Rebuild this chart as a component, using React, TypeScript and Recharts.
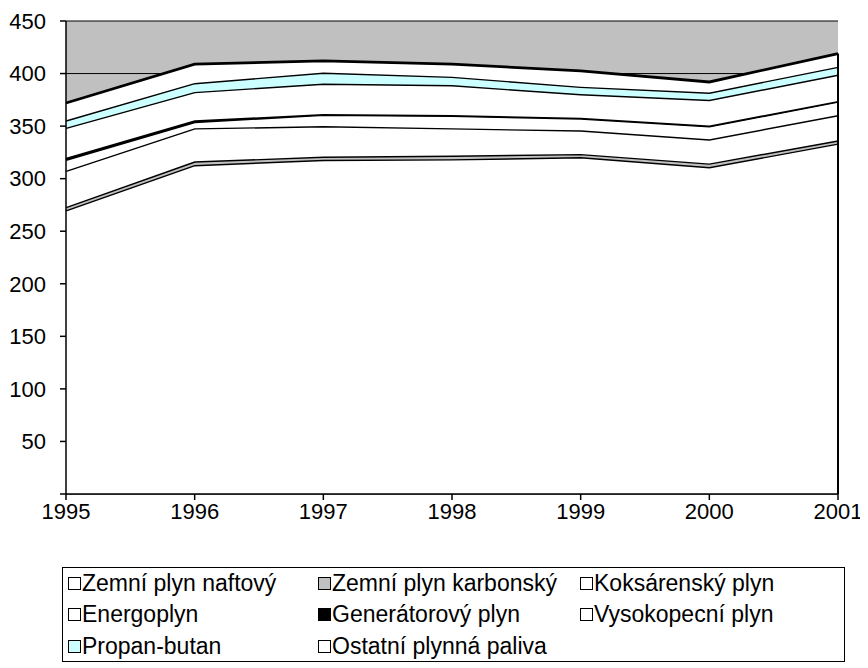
import { Area, AreaChart, CartesianGrid, ReferenceLine, XAxis, YAxis } from "recharts";

const years = ["1995", "1996", "1997", "1998", "1999", "2000", "2001"];
const zemniPlynNaftovy = [270, 313, 318, 318.5, 320.5, 311, 333.5];
const zemniPlynKarbonsky = [3, 3.5, 3, 3.5, 3, 3.5, 3];
const koksarenskyPlyn = [34.5, 31.5, 29, 26, 22.5, 23, 24];
const energoplyn = [10.5, 6, 11, 12, 11.5, 12.5, 13];
const generatorovyPlyn = [2, 1.5, 0.5, 0.5, 0.5, 0.5, 0.5];
const vysokopecniPlyn = [28.5, 27, 29, 28.5, 22.5, 24.5, 25];
const propanButan = [7, 8.5, 10.5, 8, 7, 7, 7.5];
const ostatniPlynnaPaliva = [16.5, 18, 11, 12, 15, 10, 12.5];
const yTicks = [0, 50, 100, 150, 200, 250, 300, 350, 400, 450];

const series = [
  { key: "naftovy", name: "Zemní plyn naftový", values: zemniPlynNaftovy, fill: "#ffffff" },
  { key: "karbonsky", name: "Zemní plyn karbonský", values: zemniPlynKarbonsky, fill: "#c0c0c0" },
  { key: "koks", name: "Koksárenský plyn", values: koksarenskyPlyn, fill: "#ffffff" },
  { key: "energo", name: "Energoplyn", values: energoplyn, fill: "#ffffff" },
  { key: "generator", name: "Generátorový plyn", values: generatorovyPlyn, fill: "#000000" },
  { key: "vysokopec", name: "Vysokopecní plyn", values: vysokopecniPlyn, fill: "#ffffff" },
  { key: "propan", name: "Propan-butan", values: propanButan, fill: "#ccffff" },
  { key: "ostatni", name: "Ostatní plynná paliva", values: ostatniPlynnaPaliva, fill: "#ffffff" },
];

const data = years.map((year, i) => {
  const row: Record<string, string | number> = { year };
  series.forEach((s) => (row[s.key] = s.values[i]));
  return row;
});

const lastTotal = series.reduce((sum, s) => sum + s.values[s.values.length - 1], 0);

const font = "'Liberation Sans', Arial, sans-serif";
const legendCols = [5, 255, 517];

export default function App() {
  return (
    <div style={{ position: "relative", width: 860, height: 660, fontFamily: font }}>
      <AreaChart width={860} height={530} data={data} margin={{ top: 13, right: 30, left: 8, bottom: 14 }}>
        <CartesianGrid vertical={false} horizontal stroke="#000" strokeWidth={1} fill="#c0c0c0" fillOpacity={1} />
        <XAxis
          dataKey="year"
          stroke="#000"
          strokeWidth={1.5}
          tickSize={6}
          tickMargin={3}
          height={30}
          tick={{ fill: "#000", fontSize: 22, fontFamily: font }}
        />
        <YAxis
          domain={[0, 450]}
          ticks={yTicks}
          width={50}
          stroke="#000"
          strokeWidth={1.5}
          tickSize={6}
          tickMargin={14}
          tickFormatter={(v) => (v === 0 ? "" : String(v))}
          tick={{ fill: "#000", fontSize: 22, fontFamily: font }}
        />
        {series.map((s) => (
          <Area
            key={s.key}
            dataKey={s.key}
            name={s.name}
            stackId="1"
            type="linear"
            fill={s.fill}
            fillOpacity={1}
            stroke="#000"
            strokeWidth={2.8}
            isAnimationActive={false}
          />
        ))}
        <ReferenceLine
          segment={[
            { x: years[years.length - 1], y: 0 },
            { x: years[years.length - 1], y: lastTotal },
          ]}
          stroke="#000"
          strokeWidth={2}
        />
      </AreaChart>
      <div
        style={{
          position: "absolute",
          left: 54,
          top: 559,
          width: 783,
          height: 95,
          border: "1px solid #000",
          boxSizing: "border-box",
          background: "#fff",
        }}
      >
        {series.map((s, i) => (
          <div
            key={s.key}
            style={{
              position: "absolute",
              left: legendCols[i % 3],
              top: 3 + Math.floor(i / 3) * 31.5,
              display: "flex",
              alignItems: "center",
              height: 24,
              fontSize: 23,
              whiteSpace: "nowrap",
            }}
          >
            <span
              style={{
                display: "inline-block",
                width: 11,
                height: 11,
                border: "1px solid #000",
                background: s.fill,
                marginRight: 1,
              }}
            />
            {s.name}
          </div>
        ))}
      </div>
    </div>
  );
}
